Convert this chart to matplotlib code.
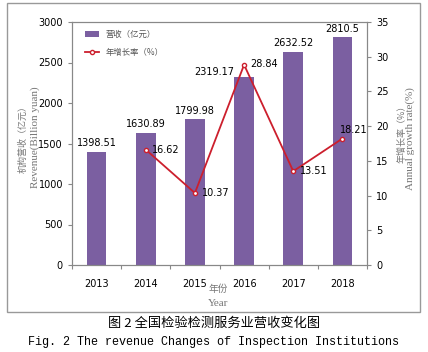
import numpy as np
import matplotlib.pyplot as plt
from matplotlib.patches import Rectangle

plt.rcParams['font.family'] = ['DejaVu Sans', 'Noto Sans CJK SC']

years = ['2013', '2014', '2015', '2016', '2017', '2018']
revenue = [1398.51, 1630.89, 1799.98, 2319.17, 2632.52, 2810.5]
growth_years = ['2014', '2015', '2016', '2017', '2018']
growth = [16.62, 10.37, 28.84, 13.51, 18.21]

x = np.arange(len(years))
gx = np.array([years.index(y) for y in growth_years])

fig = plt.figure(figsize=(4.28, 3.52), dpi=100)
ax = fig.add_axes([72 / 428, 1 - 265 / 352, 295 / 428, 243 / 352])
ax2 = ax.twinx()

bar_col = '#7b5fa1'
line_col = '#cc1f2d'
grey = '#888888'

b = ax.bar(x, revenue, width=0.4, color=bar_col)
ax.set_xlim(-0.5, 5.5)
ax.set_ylim(0, 3000)
ax.set_yticks(np.arange(0, 3001, 500))
ax.set_xticks(np.arange(-0.5, 5.6, 1))
ax.set_xticklabels([])
ax.set_xticks(x, minor=True)
ax.set_xticklabels(years, minor=True)
ax.tick_params(axis='x', which='minor', length=0, pad=10, labelsize=7)
ax.tick_params(axis='x', which='major', length=3, color=grey)
ax.tick_params(axis='y', labelsize=7, length=3, color=grey)

# revenue labels; the 2016 one sits left of its bar
for xi, v in zip(x, revenue):
    if xi == 3:
        ax.text(xi - 0.19, v + 60, f'{v}', ha='right', va='center', fontsize=7)
    else:
        ax.text(xi, v + 45, f'{v}', ha='center', va='bottom', fontsize=7)

l, = ax2.plot(gx, growth, color=line_col, lw=1.3, marker='o', ms=3,
              mfc='white', mec=line_col)
ax2.set_ylim(0, 35)
ax2.set_yticks(np.arange(0, 36, 5))
ax2.tick_params(axis='y', labelsize=7, length=3, color=grey)
offs = {0: (0.12, 0.0), 1: (0.14, 0.0), 2: (0.13, 0.1), 3: (0.14, 0.0), 4: (-0.04, 1.3)}
for i, (xi, v) in enumerate(zip(gx, growth)):
    ox, oy = offs[i]
    ax2.text(xi + ox, v + oy, f'{v}', ha='left', va='center', fontsize=7)

for a in (ax, ax2):
    for s in a.spines.values():
        s.set_color(grey)
        s.set_linewidth(0.8)

ax.legend([b, l], ['营收（亿元）', '年增长率（%）'], loc='upper left', frameon=False,
          labelcolor='#555555', handlelength=1.6, labelspacing=1.1,
          bbox_to_anchor=(0.02, 1.0), prop={'family': ['Noto Sans CJK SC'], 'size': 6})

fig.text(23 / 428, 1 - 137 / 352, '机构营收（亿元）', rotation=90, ha='center', va='center',
         fontsize=6.5, color='#777777', family=['Noto Sans CJK SC'])
fig.text(35 / 428, 1 - 137 / 352, 'Revenue(Billion yuan)', rotation=90, ha='center',
         va='center', fontsize=8, color='#777777', family=['Liberation Serif'])
fig.text(402 / 428, 1 - 132 / 352, '年增长率（%）', rotation=90, ha='center', va='center',
         fontsize=6.5, color='#777777', family=['Noto Sans CJK SC'])
fig.text(410 / 428, 1 - 139 / 352, 'Annual growth rate(%)', rotation=90, ha='center',
         va='center', fontsize=8, color='#777777', family=['Liberation Serif'])
fig.text(218 / 428, 1 - 289 / 352, '年份', ha='center', va='center', fontsize=7,
         color='#777777', family=['Noto Sans CJK SC'])
fig.text(218 / 428, 1 - 303 / 352, 'Year', ha='center', va='center', fontsize=8,
         color='#777777', family=['Liberation Serif'])

fig.patches.append(Rectangle((7 / 428, 1 - 312 / 352), 413 / 428, 309 / 352,
                             transform=fig.transFigure, fill=False, ec='#999999', lw=1))

fig.text(0.5, 1 - 323 / 352, '图 2 全国检验检测服务业营收变化图', ha='center', va='center',
         fontsize=9.5, family=['Noto Sans CJK SC'])
fig.text(0.5, 1 - 342 / 352, 'Fig. 2 The revenue Changes of Inspection Institutions',
         ha='center', va='center', fontsize=8.5, family=['Liberation Mono'])

fig.savefig('out.png', dpi=100)
